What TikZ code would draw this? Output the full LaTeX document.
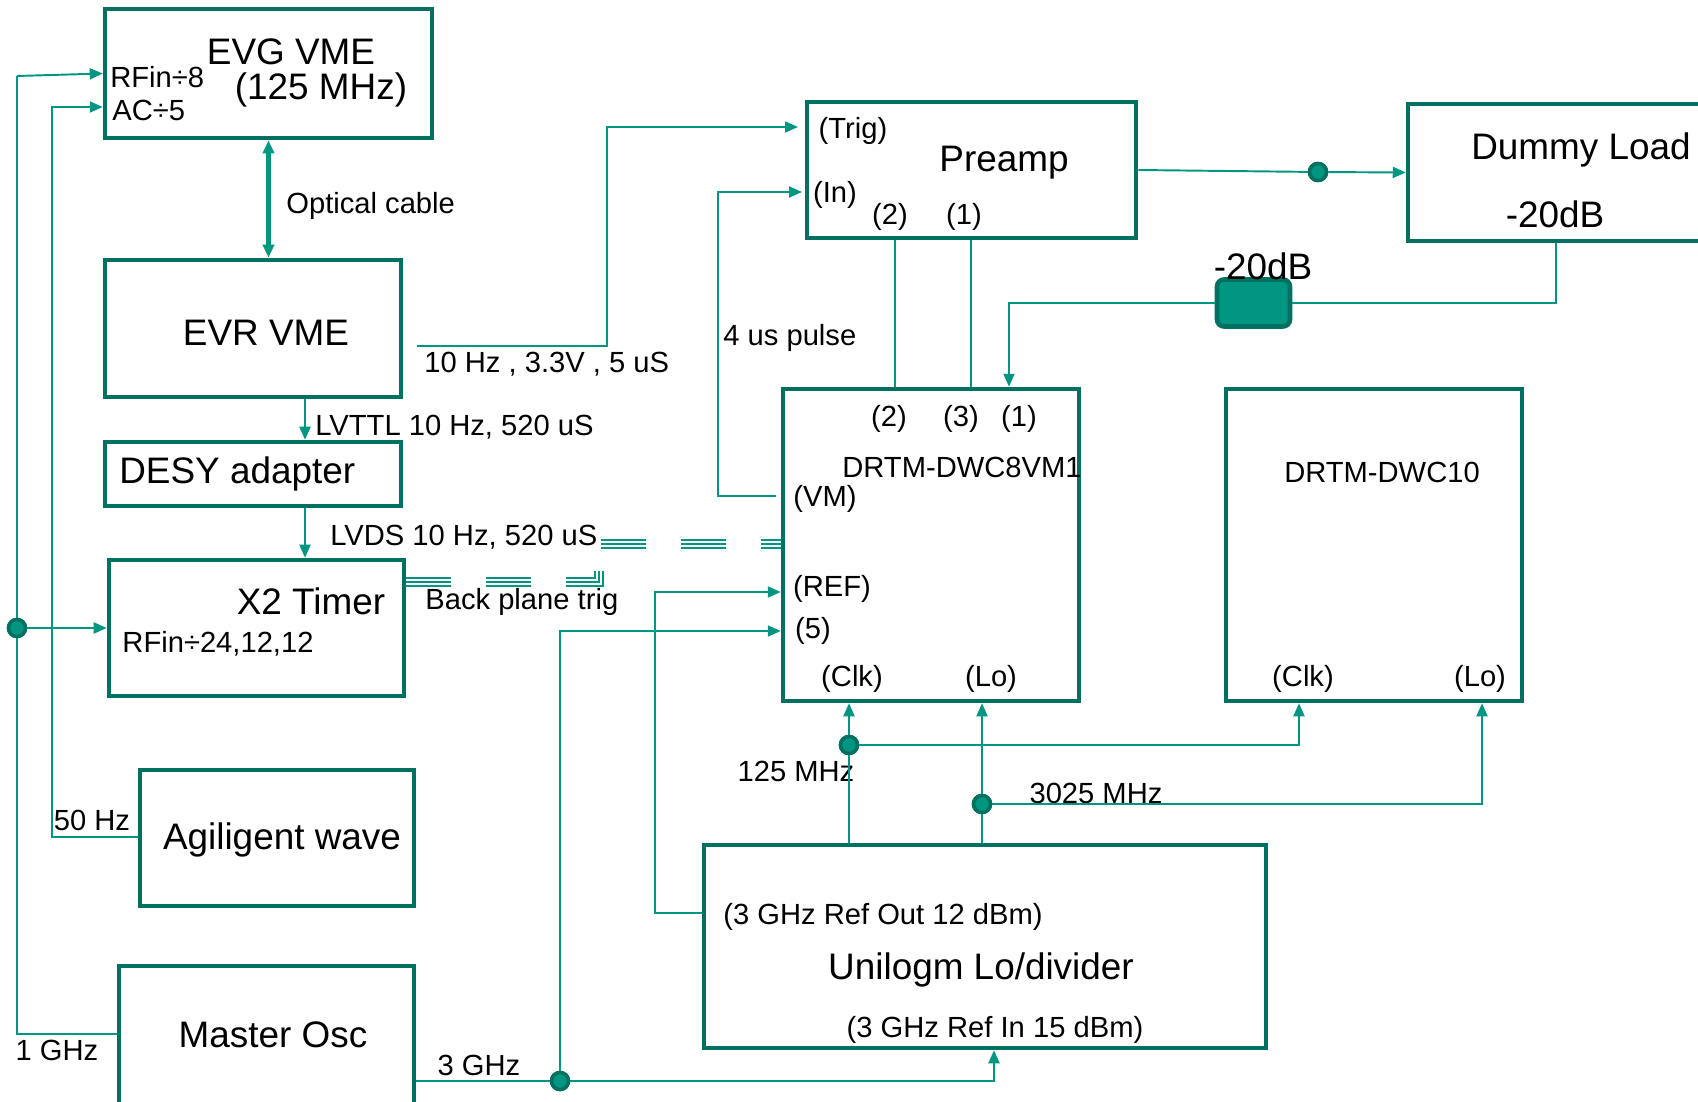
\documentclass[tikz,border=0pt]{standalone}
\usepackage{fontspec}
\setmainfont{Liberation Sans}
\usepackage{xcolor}
\definecolor{dwteal}{RGB}{0,112,96}
\definecolor{dwwire}{RGB}{0,150,130}
\usetikzlibrary{arrows.meta, positioning}
\tikzset{
  blk/.style={draw=dwteal, line width=2.6pt, inner sep=0pt},
  wire/.style={draw=dwwire, line width=1.1pt},
  dot/.style={circle, fill=dwwire, draw=dwteal, line width=2pt, minimum size=0.34cm, inner sep=0pt},
  big/.style={font=\fontsize{21}{24}\selectfont, inner sep=0pt, yshift=-0.05cm},
  sml/.style={font=\fontsize{16.6}{19}\selectfont, inner sep=0pt, yshift=-0.05cm},
  bus/.style={draw=dwwire, double=white, line width=1.3pt, double distance=3pt, dash pattern=on 0.9cm off 0.7cm},
  busmid/.style={draw=dwwire, line width=1.3pt, dash pattern=on 0.9cm off 0.7cm},
  >={Triangle[length=0.26cm, width=0.22cm]}
}
\begin{document}
\begin{tikzpicture}[x=0.02cm, y=-0.02cm]
\useasboundingbox (0,0) rectangle (1698,1102);

% blocks
\node[blk, minimum width=6.54cm, minimum height=2.58cm] (evg) at (268.5,73.5) {};
\node[blk, minimum width=5.92cm, minimum height=2.74cm] (evr) at (253,328.5) {};
\node[blk, minimum width=5.92cm, minimum height=1.28cm] (desy) at (253,474) {};
\node[blk, minimum width=5.90cm, minimum height=2.72cm] (x2) at (256.5,628) {};
\node[blk, minimum width=5.48cm, minimum height=2.72cm] (agi) at (277,838) {};
\node[blk, minimum width=5.90cm, minimum height=2.88cm] (osc) at (266.5,1038) {};
\node[blk, minimum width=6.58cm, minimum height=2.72cm] (preamp) at (971.5,170) {};
\node[blk, minimum width=6.04cm, minimum height=2.74cm] (dummy) at (1559,172.5) {};
\node[blk, minimum width=5.92cm, minimum height=6.24cm] (dwc8) at (931,545) {};
\node[blk, minimum width=5.92cm, minimum height=6.24cm] (dwc10) at (1374,545) {};
\node[blk, minimum width=11.24cm, minimum height=4.06cm] (uni) at (985,946.5) {};
\node[blk, fill=dwwire, rounded corners=4pt, minimum width=1.46cm, minimum height=0.94cm] (att) at (1253.5,303) {};

% texts in the blocks
\node[big] (tEvg1) at (291,49) {EVG VME};
\node[big] (tEvg2) at (321,87) {(125 MHz)};
\node[sml, anchor=west] (tRfin) at (110,75) {RFin÷8};
\node[sml, anchor=west] (tAc) at (112,108) {AC÷5};
\node[big] (tEvr) at (266,330) {EVR VME};
\node[big, anchor=west] (tDesy) at (119,471) {DESY adapter};
\node[big] (tX2) at (311,599) {X2 Timer};
\node[sml] (tRf24) at (218,641) {RFin÷24,12,12};
\node[big] (tAgi) at (282,837) {Agiligent wave};
\node[big] (tOsc) at (273,1032) {Master Osc};
\node[sml] (tTrig) at (853,128) {(Trig)};
\node[big] (tPre) at (1004,160) {Preamp};
\node[sml] (tIn) at (835,192) {(In)};
\node[sml] (tP2) at (890,214) {(2)};
\node[sml] (tP1) at (964,214) {(1)};
\node[big] (tDum) at (1581,147) {Dummy Load};
\node[big] (tDum2) at (1555,212) {-20dB};
\node[big] (tAtt) at (1263,264) {-20dB};
\node[sml] (t82) at (889,416) {(2)};
\node[sml] (t83) at (961,416) {(3)};
\node[sml] (t81) at (1019,416) {(1)};
\node[sml] (tDwc8) at (962,465) {DRTM-DWC8VM1};
\node[sml] (tVm) at (825,496) {(VM)};
\node[sml] (tRef) at (832,586) {(REF)};
\node[sml] (t5) at (813,628) {(5)};
\node[sml] (tClk8) at (852,676) {(Clk)};
\node[sml] (tLo8) at (991,676) {(Lo)};
\node[sml] (tDwc10) at (1382,470) {DRTM-DWC10};
\node[sml] (tClk10) at (1303,676) {(Clk)};
\node[sml] (tLo10) at (1480,676) {(Lo)};
\node[sml] (tOut) at (883,914) {(3 GHz Ref Out 12 dBm)};
\node[big] (tUni) at (981,967) {Unilogm Lo/divider};
\node[sml] (tIn15) at (995,1027) {(3 GHz Ref In 15 dBm)};

% wire labels
\node[sml, anchor=west] (tOpt) at (286,203) {Optical cable};
\node[sml, anchor=west] (t10hz) at (424,362) {10 Hz , 3.3V , 5 uS};
\node[sml, anchor=west] (tLvttl) at (315,425) {LVTTL 10 Hz, 520 uS};
\node[sml, anchor=west] (tLvds) at (330,535) {LVDS 10 Hz, 520 uS};
\node[sml, anchor=west] (tBack) at (425,599) {Back plane trig};
\node[sml] (t50) at (92,818) {50 Hz};
\node[sml] (t1g) at (57,1048) {1 GHz};
\node[sml] (t3g) at (479,1063) {3 GHz};
\node[sml, anchor=west] (tPulse) at (723,335) {4 us pulse};
\node[sml] (t125) at (796,769) {125 MHz};
\node[sml] (t3025) at (1096,791) {3025 MHz};

% bend points
\coordinate (ga) at (17,76);
\coordinate (gb) at (17,1034);
\coordinate (ac) at (52,107);
\coordinate (acb) at (52,837);
\coordinate (tg0) at (417,346);
\coordinate (trg) at (798,127);
\coordinate (lv) at (305,0);
\coordinate (bp) at (599,582);
\coordinate (bpu) at (599,571);
\coordinate (bq) at (601,544);
\coordinate (p2) at (895,0);
\coordinate (p1) at (971,0);
\coordinate (dl) at (1556,303);
\coordinate (a1) at (1009,303);
\coordinate (vm0) at (776,496);
\coordinate (vm1) at (718,496);
\coordinate (inp) at (802,192);
\coordinate (ro) at (655,913);
\coordinate (rf) at (655,592);
\coordinate (f5) at (560,631);
\coordinate (ri) at (994,1081);
\coordinate (ck) at (1299,745);
\coordinate (lo) at (1482,804);

% connectors
\draw[wire, ->] (ga) -- (evg.west);
\draw[wire] (ga) -- (gb) -- (gb -| osc.west);
\draw[wire, ->] (acb -| agi.west) -- (acb) -- (ac) -- (ac -| evg.west);
\draw[draw=dwwire, line width=2.3pt, <->] (evg.south) -- (evg.south |- evr.north);
\draw[wire, ->] (tg0) -- ++(190,0) |- (trg);
\draw[wire, ->] (evr.south -| lv) -- (desy.north -| lv);
\draw[wire, ->] (desy.south -| lv) -- (x2.north -| lv);
\draw[bus] (bp -| x2.east) -- (bp) -- (bpu);
\draw[busmid] (bp -| x2.east) -- (bp) -- (bpu);
\draw[bus] (bq) -- (bq -| dwc8.west);
\draw[busmid] (bq) -- (bq -| dwc8.west);
\draw[wire] (preamp.south -| p2) -- (dwc8.north -| p2);
\draw[wire] (preamp.south -| p1) -- (dwc8.north -| p1);
\node[dot] (jdl) at (1318,172) {};
\draw[wire] (preamp.east) -- (jdl);
\draw[wire, ->] (jdl) -- (dummy.west);
\draw[wire] (dummy.south -| dl) -- (dl) -- (att.east);
\draw[wire, ->] (att.west) -- (a1) -- (a1 |- dwc8.north);
\draw[wire, ->] (vm0) -- (vm1) |- (inp);
\draw[wire, ->] (ro -| uni.west) -- (ro) -- (rf) -- (rf -| dwc8.west);
\node[dot] (j3g) at (560,1081) {};
\draw[wire, ->] (j3g) -- (f5) -- (f5 -| dwc8.west);
\draw[wire, ->] (osc.east |- j3g) -- (j3g) -- (ri) -- (ri |- uni.south);
\node[dot] (jclk) at (849,745) {};
\node[dot] (jlo) at (982,804) {};
\draw[wire, ->] (uni.north -| jclk) -- (dwc8.south -| jclk);
\draw[wire, ->] (jclk) -- (ck) -- (ck |- dwc10.south);
\draw[wire, ->] (uni.north -| jlo) -- (dwc8.south -| jlo);
\draw[wire, ->] (jlo) -- (lo) -- (lo |- dwc10.south);
\node[dot] (jx2) at (17,628) {};
\draw[wire, ->] (jx2) -- (jx2 -| x2.west);
% dots on top
\node[dot] at (jdl) {};
\node[dot] at (j3g) {};
\node[dot] at (jclk) {};
\node[dot] at (jlo) {};
\node[dot] at (jx2) {};
\end{tikzpicture}
\end{document}
